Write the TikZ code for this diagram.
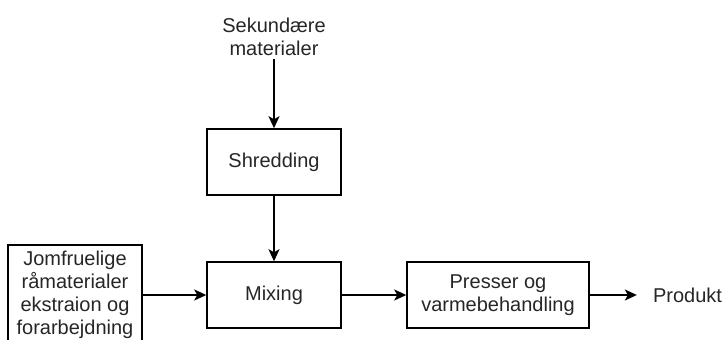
\documentclass[tikz,border=0pt]{standalone}
\usepackage{fontspec}
\setmainfont{Liberation Sans}
\usetikzlibrary{arrows.meta}
\begin{document}
\begin{tikzpicture}[x=1pt,y=-1pt,
  every node/.style={font=\fontsize{20}{23}\selectfont, text=black!85, align=center},
  procbox/.style={draw=black, line width=1.5pt, inner sep=0pt, minimum height=66pt},
  flow/.style={line width=1.5pt, -{Stealth[length=12pt,width=11pt,inset=3pt]}}]
\useasboundingbox (0,0) rectangle (724,340);
\node (sek) at (274,37) {Sekundære\\materialer};
\node[procbox, minimum width=134pt] (shred) at (274,162) {Shredding};
\node[procbox, minimum width=134pt] (mix) at (274,295) {Mixing};
\node[procbox, minimum width=182pt] (press) at (498,295) {Presser og\\varmebehandling};
\node[procbox, minimum width=134pt, minimum height=100pt] (jomf) at (75,295) {Jomfruelige\\råmaterialer\\ekstraion og\\forarbejdning};
\node[inner xsep=16pt, inner ysep=2pt] (prod) at (687.5,295) {Produkt};
\draw[flow] (sek.south) -- (shred.north);
\draw[flow] (shred.south) -- (mix.north);
\draw[flow] (jomf.east) -- (mix.west);
\draw[flow] (mix.east) -- (press.west);
\draw[flow] (press.east) -- (prod.west);
\end{tikzpicture}
\end{document}
